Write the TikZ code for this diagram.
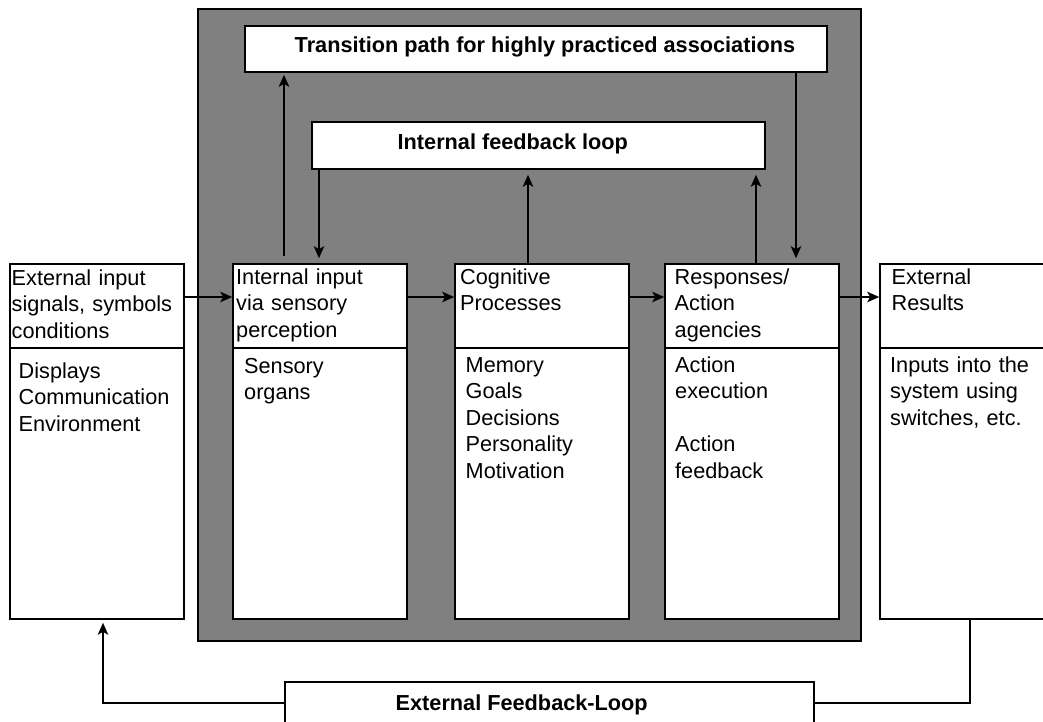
\documentclass[tikz,border=0pt]{standalone}
\usepackage{fontspec}
\setmainfont{Liberation Sans}
\usetikzlibrary{arrows.meta}
\begin{document}
\begin{tikzpicture}[x=1pt,y=-1pt,
  box/.style={draw=black,fill=white,line width=1.6pt,rectangle,inner sep=0pt},
  frame/.style={draw=black,fill=gray,line width=1.6pt,rectangle,inner sep=0pt},
  txt/.style={anchor=base west,inner sep=0pt,text width=220pt,align=left,
    font=\fontsize{21.7}{26.5}\selectfont},
  ttl/.style={anchor=base west,inner sep=0pt,
    font=\fontsize{21.7}{26.5}\selectfont\bfseries},
  conn/.style={line width=1.7pt},
  arr/.style={conn,-{Stealth[length=12pt,width=10.5pt,inset=3pt]}}]
\clip (0,0) rectangle (1043,722);

% gray frame around the internal processing chain
\node[frame,minimum width=663pt,minimum height=632pt] (frm) at (529.5,325) {};

% top boxes
\node[box,minimum width=582pt,minimum height=46pt] (trans) at (536,49) {};
\node[box,minimum width=453pt,minimum height=47pt] (ifb) at (538.5,145.5) {};

% column boxes
\node[box,minimum width=174pt,minimum height=355pt] (ext)  at (97,441.5) {};
\node[box,minimum width=174pt,minimum height=355pt] (inp)  at (320,441.5) {};
\node[box,minimum width=174pt,minimum height=355pt] (cog)  at (542,441.5) {};
\node[box,minimum width=174pt,minimum height=355pt] (resp) at (752,441.5) {};
\node[box,minimum width=180pt,minimum height=355pt] (res)  at (970,441.5) {};

% bottom box
\node[box,minimum width=529pt,minimum height=68pt] (efb) at (549.5,716) {};

% dividers between header and body
\coordinate (yD) at (0,348);
\foreach \n in {ext,inp,cog,resp,res}
  \draw[conn] (\n.west |- yD) -- (\n.east |- yD);

% helper coordinates
\coordinate (yH) at (0,297);
\coordinate (yF) at (0,703);
\coordinate (xA) at (284,0);
\coordinate (xB) at (319,0);
\coordinate (xC) at (528,0);
\coordinate (xD) at (756,0);
\coordinate (xE) at (796,0);
\coordinate (xL) at (103,0);
\coordinate (xR) at (970,0);

% main flow
\draw[arr] (ext.east |- yH) -- (inp.west |- yH);
\draw[arr] (inp.east |- yH) -- (cog.west |- yH);
\draw[arr] (cog.east |- yH) -- (resp.west |- yH);
\draw[arr] (resp.east |- yH) -- (res.west |- yH);

% internal loops
\draw[arr,shorten <=7pt,shorten >=2pt] (inp.north -| xA) -- (trans.south -| xA);
\draw[arr,shorten >=5pt] (ifb.south -| xB) -- (inp.north -| xB);
\draw[arr,shorten >=5pt] (cog.north -| xC) -- (ifb.south -| xC);
\draw[arr,shorten >=5pt] (resp.north -| xD) -- (ifb.south -| xD);
\draw[arr,shorten >=5pt] (trans.south -| xE) -- (resp.north -| xE);

% external feedback loop
\draw[conn] (res.south -| xR) |- (efb.east |- yF);
\draw[arr,shorten >=3pt] (efb.west |- yF) -| (ext.south -| xL);

% titles
\node[ttl] (ttrans) at (294.5,53) {Transition path for highly practiced associations};
\node[ttl] (tifb) at (397.5,150) {Internal feedback loop};
\node[ttl] (tefb) at (395.5,710) {External Feedback-Loop};

% column texts
\node[txt] (h1) at (11.5,285) {External input\\signals, symbols\\conditions};
\node[txt] (b1) at (18.5,378) {Displays\\Communication\\Environment};
\node[txt] (h2) at (236,284) {Internal input\\via sensory\\perception};
\node[txt] (b2) at (244,373) {Sensory\\organs};
\node[txt] (h3) at (460,284) {Cognitive\\Processes};
\node[txt] (b3) at (465.5,372) {Memory\\Goals\\Decisions\\Personality\\Motivation};
\node[txt] (h4) at (674.5,284) {Responses/\\Action\\agencies};
\node[txt] (b4) at (675,372) {Action\\execution\\\mbox{}\\Action\\feedback};
\node[txt] (h5) at (891.5,284) {External\\Results};
\node[txt] (b5) at (890,372) {Inputs into the\\system using\\switches, etc.};
\end{tikzpicture}
\end{document}
